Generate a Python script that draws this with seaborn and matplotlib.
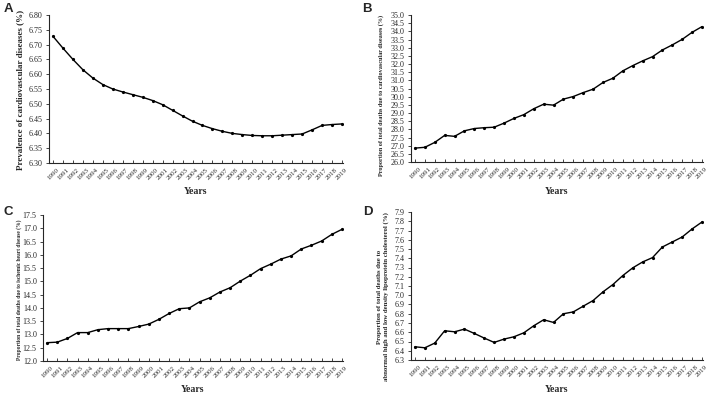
import matplotlib
matplotlib.use("Agg")
import matplotlib.pyplot as plt
import seaborn as sns
import pandas as pd
import numpy as np

years = list(range(1990, 2020))

prevalence_cvd = [6.728, 6.688, 6.650, 6.615, 6.587, 6.565, 6.550, 6.540, 6.531, 6.522,
                  6.511, 6.497, 6.478, 6.459, 6.441, 6.427, 6.416, 6.407, 6.400, 6.396,
                  6.393, 6.392, 6.392, 6.394, 6.396, 6.398, 6.412, 6.427, 6.430, 6.432]

deaths_cvd = [26.85, 26.90, 27.20, 27.63, 27.57, 27.91, 28.05, 28.10, 28.13, 28.38,
              28.67, 28.90, 29.26, 29.54, 29.48, 29.85, 30.01, 30.25, 30.46, 30.87,
              31.13, 31.58, 31.90, 32.19, 32.45, 32.86, 33.17, 33.51, 33.94, 34.29]

deaths_ihd = [12.69, 12.71, 12.85, 13.07, 13.07, 13.18, 13.22, 13.22, 13.22, 13.30,
              13.39, 13.57, 13.79, 13.97, 14.00, 14.23, 14.38, 14.60, 14.76, 15.01,
              15.23, 15.48, 15.65, 15.84, 15.96, 16.22, 16.36, 16.52, 16.77, 16.96]

deaths_ldl = [6.443, 6.432, 6.483, 6.616, 6.605, 6.634, 6.587, 6.537, 6.490, 6.526,
              6.551, 6.594, 6.670, 6.735, 6.706, 6.800, 6.820, 6.882, 6.943, 7.037,
              7.116, 7.213, 7.296, 7.360, 7.407, 7.522, 7.576, 7.630, 7.717, 7.792]

ylabels = ["Prevalence of cardiovascular diseases (%)",
           "Proportion of total deaths due to cardiovascular diseases (%)",
           "Proportion of total deaths due to ischemic heart disease (%)",
           "Proportion of total deaths due to\nabnormal high and low density lipoprotein cholesterol (%)"]
letters = ["A", "B", "C", "D"]

sns.set_style("ticks")
plt.rcParams['font.family'] = ['Liberation Serif', 'DejaVu Serif']

W, H = 708, 394
fig = plt.figure(figsize=(W / 100, H / 100), dpi=100)

def rect(l, r, t, b):
    return [l / W, 1 - b / H, (r - l) / W, (b - t) / H]

panels = [
    dict(data=prevalence_cvd, rect=rect(49, 343, 15, 163), ylim=(6.30, 6.80), step=0.05, fmt="{:.2f}",
         ylfs=6.5, ylx=20, ylc=90, letter_xy=(8, 9)),
    dict(data=deaths_cvd, rect=rect(411, 703, 15, 162), ylim=(26.0, 35.0), step=0.5, fmt="{:.1f}",
         ylfs=4.4, ylx=381, ylc=95, letter_xy=(367, 9)),
    dict(data=deaths_ihd, rect=rect(43, 343, 215, 361), ylim=(12.0, 17.5), step=0.5, fmt="{:.1f}",
         ylfs=4.0, ylx=19, ylc=290, letter_xy=(8, 212)),
    dict(data=deaths_ldl, rect=rect(411, 703, 212, 360), ylim=(6.3, 7.9), step=0.1, fmt="{:.1f}",
         ylfs=4.9, ylx=383, ylc=297, letter_xy=(368, 212)),
]

for i, p in enumerate(panels):
    ax = fig.add_axes(p["rect"])
    df = pd.DataFrame({"Years": years, "value": p["data"]})
    sns.lineplot(data=df, x="Years", y="value", ax=ax, color="black", linewidth=1.0,
                 marker="o", markersize=2.3, markeredgewidth=0)
    lo, hi = p["ylim"]
    ticks = np.round(np.arange(lo, hi + p["step"] / 2, p["step"]), 3)
    ax.set_ylim(lo, hi)
    ax.set_yticks(ticks)
    ax.set_yticklabels([p["fmt"].format(t) for t in ticks], fontsize=5.8)
    ax.set_xlim(1989.6, 2019.1)
    ax.set_xticks(years)
    ax.set_xticklabels([str(y) for y in years], rotation=45, fontsize=5.0, ha="center",
                       rotation_mode="default")
    ax.tick_params(axis="y", direction="out", length=2.5, width=0.6, pad=2)
    ax.tick_params(axis="x", direction="in", length=2.5, width=0.6, pad=3)
    for s in ["left", "bottom"]:
        ax.spines[s].set_linewidth(0.8)
    sns.despine(ax=ax)
    ax.set_ylabel("")
    ax.set_xlabel("")
    bb = p["rect"]
    fig.text(p["ylx"] / W, 1 - p["ylc"] / H, ylabels[i], rotation=90, ha="center", va="center",
             fontsize=p["ylfs"], fontweight="bold", linespacing=1.1)
    xcen = bb[0] + bb[2] / 2
    ylab_y = 192 if i < 2 else 390
    fig.text(xcen, 1 - ylab_y / H, "Years", ha="center", va="center", fontsize=7,
             fontweight="bold")
    lx, ly = p["letter_xy"]
    fig.text(lx / W, 1 - ly / H, letters[i], ha="center", va="center", fontsize=9.5,
             fontweight="bold", family=["Liberation Sans", "DejaVu Sans"])

fig.savefig("out.png", dpi=100)
